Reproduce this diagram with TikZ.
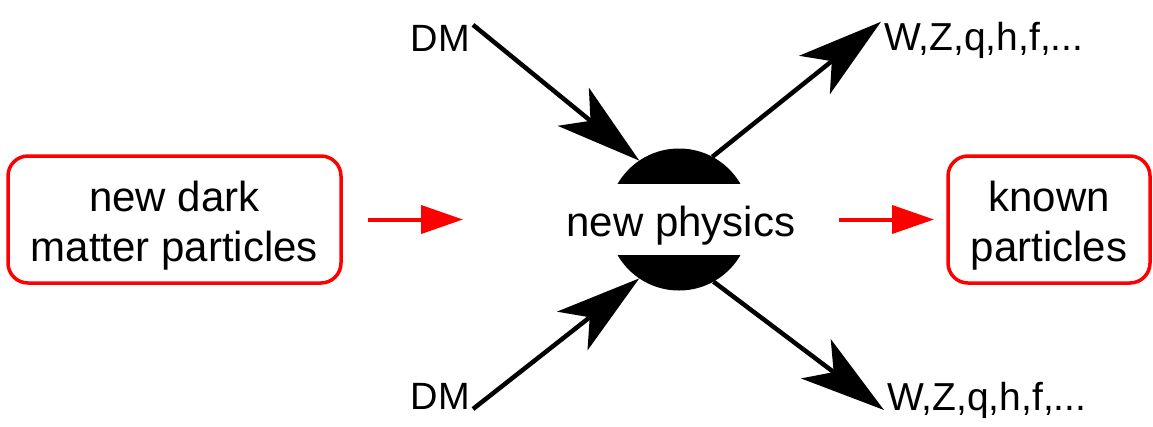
\documentclass[tikz,border=0pt]{standalone}
\usepackage{fontspec}
\setmainfont{Liberation Sans}
\usetikzlibrary{arrows.meta}
\begin{document}
\begin{tikzpicture}[x=1pt,y=-1pt,
  bigfont/.style={font=\fontsize{42}{50}\selectfont},
  dmfont/.style={font=\fontsize{38}{44}\selectfont},
  wzfont/.style={font=\fontsize{39}{45}\selectfont},
  redbox/.style={draw=red, line width=3.5pt, rounded corners=20pt, inner sep=0pt, outer sep=0pt},
  redarrow/.style={draw=red, line width=4pt, -{Triangle[length=42pt,width=28pt]}},
  blackarrow/.style={draw=black, line width=4.5pt, -{Stealth[length=85pt,width=49pt,inset=22pt]}},
  lbl/.style={inner sep=0pt, outer sep=0pt},
  endlbl/.style={inner xsep=3pt, inner ysep=0pt, outer sep=0pt}
]
\useasboundingbox (0,0) rectangle (1153,426);
% boxes
\node[redbox, minimum width=333pt, minimum height=127pt] (ldm) at (174.5,219.5) {};
\node[lbl, bigfont, align=center] (ldmt) at (174.5,225.5) {new dark\\matter particles};
\node[redbox, minimum width=202pt, minimum height=127pt] (kp) at (1049,219.5) {};
\node[lbl, bigfont, align=center] (kpt) at (1049,225.5) {known\\particles};
% central blob
\node[circle, fill=black, minimum size=142pt, inner sep=0pt, outer sep=0pt] (np) at (679,219.5) {};
\fill[white] (600,184) rectangle (760,255);
\node[lbl, bigfont] (npt) at (681,226) {new physics};
% end labels
\node[endlbl, dmfont, anchor=base east] (dm1) at (473,51) {DM};
\node[endlbl, dmfont, anchor=base east] (dm2) at (473,409) {DM};
\node[endlbl, wzfont, anchor=base west] (wz1) at (881,50) {W,Z,q,h,f,...};
\node[endlbl, wzfont, anchor=base west] (wz2) at (884,410) {W,Z,q,h,f,...};
% red arrows
\draw[redarrow, shorten <=27pt, shorten >=145pt] (ldm) -- (np);
\draw[redarrow, shorten <=89pt, shorten >=14pt] (np) -- (kp);
% black arrows
\draw[blackarrow] (dm1.north east) -- (np.124);
\draw[blackarrow] (dm2.base east) -- (np.236);
\draw[blackarrow] (np.62) -- (wz1.north west);
\draw[blackarrow] (np.299) -- (wz2.base west);
\end{tikzpicture}
\end{document}
